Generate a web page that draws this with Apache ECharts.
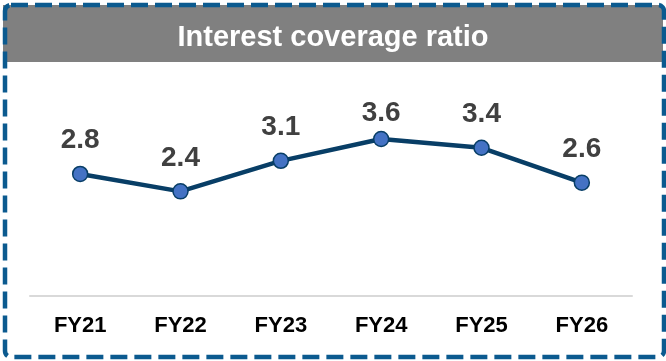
<!DOCTYPE html>
<html>
<head>
<meta charset="utf-8">
<script src="https://cdn.jsdelivr.net/npm/echarts@6/dist/echarts.min.js"></script>
<style>
  html, body { margin: 0; padding: 0; background: #ffffff; }
  #chart { width: 666px; height: 361px; }
</style>
</head>
<body>
<div id="chart"></div>
<script>
// Fiscal years on the category axis
const years = ['FY21', 'FY22', 'FY23', 'FY24', 'FY25', 'FY26'];
// Interest coverage ratio (x)
const coverage = [2.8, 2.4, 3.1, 3.6, 3.4, 2.6];
// Label gap above each point (FY24 sits closer to its marker)
const labelGap = [11, 11, 11, 4, 11, 11];

const chart = echarts.init(document.getElementById('chart'), null, { renderer: 'canvas' });

const FONT = '"Liberation Sans", Arial, Helvetica, sans-serif';

chart.setOption({
  animation: false,
  backgroundColor: '#ffffff',
  title: {
    text: 'Interest coverage ratio',
    left: 'center',
    top: 18,
    textStyle: {
      color: '#ffffff',
      fontFamily: FONT,
      fontWeight: 'bold',
      fontSize: 29
    }
  },
  graphic: [
    {
      type: 'rect',
      z: -10,
      silent: true,
      shape: { x: 3, y: 5, width: 660, height: 57 },
      style: { fill: '#808080' }
    },
    {
      type: 'rect',
      z: 100,
      silent: true,
      shape: { x: 5, y: 5, width: 659, height: 352, r: 6 },
      style: {
        fill: 'none',
        stroke: '#0B5A8F',
        lineWidth: 4.5,
        lineDash: [17, 7]
      }
    }
  ],
  grid: { left: 30, right: 34, top: 78, bottom: 65, containLabel: false },
  xAxis: {
    type: 'category',
    data: years,
    boundaryGap: true,
    axisLine: { show: true, lineStyle: { color: '#D9D9D9', width: 2 } },
    axisTick: { show: false },
    axisLabel: {
      margin: 19,
      color: '#000000',
      fontFamily: FONT,
      fontWeight: 'bold',
      fontSize: 22
    }
  },
  yAxis: {
    type: 'value',
    min: 0,
    max: 5,
    show: false,
    splitLine: { show: false }
  },
  series: [{
    type: 'line',
    data: coverage.map((v, i) => ({
      value: v,
      label: { distance: labelGap[i] }
    })),
    symbol: 'circle',
    symbolSize: 15,
    lineStyle: { color: '#083E66', width: 4.5 },
    itemStyle: { color: '#4472C4', borderColor: '#083E66', borderWidth: 1.5 },
    label: {
      show: true,
      position: 'top',
      color: '#404040',
      fontFamily: FONT,
      fontWeight: 'bold',
      fontSize: 28,
      formatter: p => p.value.toFixed(1)
    }
  }]
});
</script>
</body>
</html>
